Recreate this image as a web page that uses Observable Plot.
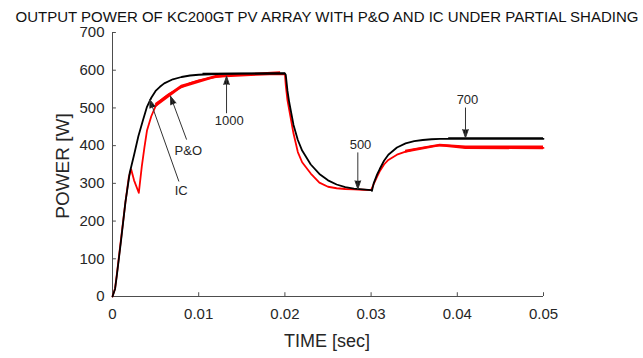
<!DOCTYPE html>
<html>
<head>
<meta charset="utf-8">
<script src="https://cdn.jsdelivr.net/npm/d3@7"></script>
<script src="https://cdn.jsdelivr.net/npm/@observablehq/plot@0.6"></script>
<style>
  html, body { margin: 0; padding: 0; background: #fff; }
  body { font-family: "Liberation Sans", Arial, Helvetica, sans-serif; }
  #wrap { position: relative; width: 643px; height: 358px; overflow: hidden; }
  #title { position: absolute; left: 0; top: 10px; width: 654px; text-align: center; font-size: 15px; line-height: 13px; color: #111; white-space: nowrap; }
  #xlabel { position: absolute; left: 0; top: 332px; width: 654px; text-align: center; font-size: 18px; line-height: 18px; color: #262626; white-space: nowrap; }
  #ylabel { position: absolute; left: 63px; top: 166px; width: 200px; margin-left: -100px; margin-top: -9px; text-align: center; font-size: 19px; line-height: 18px; color: #262626; white-space: nowrap; transform: rotate(-90deg); }
  #chart svg { display: block; }
</style>
</head>
<body>
<div id="wrap">
  <div id="chart"></div>
  <div id="title">OUTPUT POWER OF KC200GT PV ARRAY WITH P&amp;O AND IC UNDER PARTIAL SHADING</div>
  <div id="xlabel">TIME [sec]</div>
  <div id="ylabel">POWER [W]</div>
</div>
<script>
// ---- data ----
const xTicks = [0, 0.01, 0.02, 0.03, 0.04, 0.05];
const xTickLabels = ["0", "0.01", "0.02", "0.03", "0.04", "0.05"];
const yTicks = [0, 100, 200, 300, 400, 500, 600, 700];

// IC (black)
const icTime = [0, 0.0003, 0.0005, 0.001, 0.0015, 0.002, 0.0025, 0.003, 0.0035, 0.004, 0.0045, 0.005, 0.0055, 0.006, 0.007, 0.008, 0.009, 0.010, 0.012, 0.015, 0.0200,
  0.0201, 0.0203, 0.0205, 0.021, 0.0215, 0.022, 0.023, 0.024, 0.025, 0.026, 0.027, 0.028, 0.029, 0.0300, 0.0301,
  0.0303, 0.0307, 0.031, 0.0315, 0.032, 0.033, 0.034, 0.035, 0.036, 0.037, 0.038, 0.040, 0.045, 0.050];
const icPower = [0, 20, 55, 150, 250, 328, 375, 425, 465, 503, 527, 545, 556, 565, 576, 582, 586, 588, 590, 591, 591,
  588, 545, 515, 455, 415, 387, 350, 325, 308, 297, 290, 286, 284, 282, 280,
  300, 324, 338, 360, 376, 395, 406, 412, 415, 417, 418, 418, 418, 418];
// IC ripple envelope on the plateaus
const icBandTime = [0.0105, 0.0201, null, 0.039, 0.050];
const icBandLow = [587, 588, null, 416, 416];
const icBandHigh = [592, 593, null, 421, 421];

// P&O (red)
const poTime = [0, 0.0003, 0.0005, 0.001, 0.0015, 0.0019, 0.00217, 0.0025, 0.00305, 0.0034, 0.0037, 0.004, 0.0045, 0.005, 0.0055, 0.006, 0.0065, 0.007, 0.008, 0.009, 0.010, 0.011, 0.012, 0.013, 0.014, 0.016, 0.0200,
  0.0201, 0.0203, 0.0205, 0.021, 0.0215, 0.022, 0.023, 0.024, 0.025, 0.026, 0.027, 0.028, 0.029, 0.0300,
  0.0303, 0.0307, 0.031, 0.0315, 0.032, 0.033, 0.034, 0.035, 0.036, 0.037, 0.038, 0.039, 0.040, 0.041, 0.043, 0.050];
const poPower = [0, 22, 58, 155, 250, 318, 337, 308, 275, 345, 395, 440, 478, 505, 518, 528, 536, 543, 555, 566, 573, 578, 582, 585, 587, 589, 590,
  560, 520, 495, 432, 383, 356, 326, 302, 291, 287, 285, 284, 283, 282,
  298, 318, 332, 350, 362, 376, 384, 390, 394, 398, 401, 400, 398, 395, 394, 394];
// P&O ripple envelope
const poBandTime = [0.005, 0.008, 0.012, 0.0195, null, 0.034, 0.038, 0.041, 0.050];
const poBandLow = [500, 551, 579, 587, null, 380, 397, 390, 389];
const poBandHigh = [512, 560, 586, 596, null, 388, 404, 399, 399];

// annotations
const noteText = ["1000", "P&O", "IC", "500", "700"];
const noteX = [0.01355, 0.0088, 0.00797, 0.02877, 0.04118];
const noteY = [465, 386, 280, 403, 522];
const arrowX1 = [0.01323, 0.00858, 0.00769, 0.02846, 0.04095];
const arrowY1 = [487, 417, 306, 381, 500];
const arrowX2 = [0.01323, 0.00673, 0.00433, 0.02846, 0.04095];
const arrowY2 = [584, 531, 522, 285, 421];

// ---- build tables ----
const ic = icTime.map((t, i) => ({t, p: icPower[i]}));
const po = poTime.map((t, i) => ({t, p: poPower[i]}));
const icBand = icBandTime.map((t, i) => ({t, lo: icBandLow[i], hi: icBandHigh[i]}));
const poBand = poBandTime.map((t, i) => ({t, lo: poBandLow[i], hi: poBandHigh[i]}));
const notes = noteText.map((text, i) => ({text, x: noteX[i], y: noteY[i]}));
const arrows = arrowX1.map((x1, i) => ({x1, y1: arrowY1[i], x2: arrowX2[i], y2: arrowY2[i]}));

const axisColor = "#4d4d4d";
const textColor = "#262626";

const chart = Plot.plot({
  width: 643,
  height: 358,
  marginLeft: 112,
  marginRight: 100,
  marginTop: 32,
  marginBottom: 62,
  x: {domain: [0, 0.05]},
  y: {domain: [0, 700]},
  style: {fontFamily: "'Liberation Sans', Arial, sans-serif", fontSize: "15px", color: textColor, background: "#fff", overflow: "visible"},
  marks: [
    Plot.ruleX([0], {stroke: axisColor, strokeWidth: 1}),
    Plot.ruleY([0], {stroke: axisColor, strokeWidth: 1}),
    Plot.ruleY(yTicks, {x1: 0, x2: 0.00045, stroke: axisColor}),
    Plot.ruleX(xTicks, {y1: 0, y2: 10, stroke: axisColor}),
    Plot.axisY(yTicks, {tickSize: 0, tickPadding: 8, label: null, fontSize: 15, fill: textColor}),
    Plot.axisX(xTicks, {tickSize: 0, tickPadding: 12, label: null, fontSize: 15, fill: textColor,
      tickFormat: (d) => xTickLabels[xTicks.indexOf(d)]}),
    Plot.areaY(poBand, {x: "t", y1: "lo", y2: "hi", fill: "#ff0000", curve: "linear"}),
    Plot.line(po, {x: "t", y: "p", stroke: "#ff0000", strokeWidth: 1.8, strokeLinejoin: "round"}),
    Plot.areaY(icBand, {x: "t", y1: "lo", y2: "hi", fill: "#000000"}),
    Plot.line(ic, {x: "t", y: "p", stroke: "#000000", strokeWidth: 1.8, strokeLinejoin: "round"}),
    Plot.arrow(arrows, {x1: "x1", y1: "y1", x2: "x2", y2: "y2", stroke: "#333", fill: "#111", strokeWidth: 1, headLength: 13, headAngle: 38}),
    Plot.text(notes, {x: "x", y: "y", text: "text", fontSize: 13, fill: textColor})
  ]
});
document.getElementById("chart").appendChild(chart);
</script>
</body>
</html>
